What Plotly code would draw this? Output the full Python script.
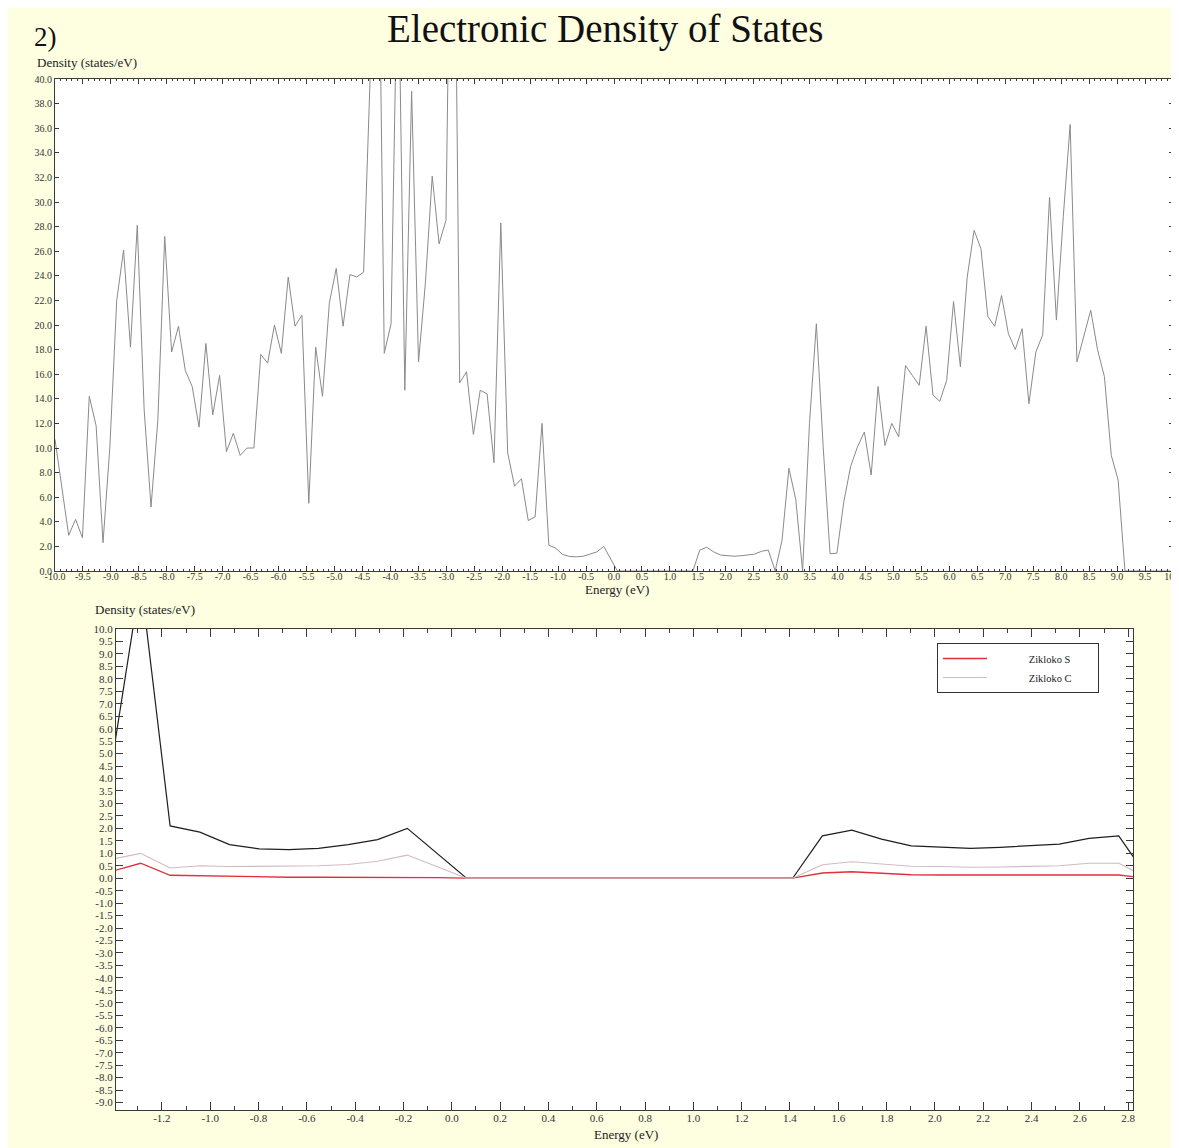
import plotly.graph_objects as go

# ---------------- data ----------------
# Upper panel: total electronic DOS over the full energy window (eV, states/eV)
energy_full = [
    -10.000, -9.877, -9.755, -9.632, -9.509, -9.387, -9.264, -9.141, -9.018, -8.896,
    -8.773, -8.650, -8.528, -8.405, -8.282, -8.160, -8.037, -7.914, -7.791, -7.669,
    -7.546, -7.423, -7.301, -7.178, -7.055, -6.933, -6.810, -6.687, -6.564, -6.442,
    -6.319, -6.196, -6.074, -5.951, -5.828, -5.706, -5.583, -5.460, -5.337, -5.215,
    -5.092, -4.969, -4.847, -4.724, -4.601, -4.479, -4.356, -4.233, -4.110, -3.988,
    -3.865, -3.742, -3.620, -3.497, -3.374, -3.252, -3.129, -3.006, -2.883, -2.761,
    -2.638, -2.515, -2.393, -2.270, -2.147, -2.025, -1.902, -1.779, -1.656, -1.534,
    -1.411, -1.288, -1.166, -1.043, -0.920, -0.798, -0.675, -0.552, -0.429, -0.307,
    -0.184, -0.061, 0.061, 1.411, 1.534, 1.656, 1.779, 1.902, 2.025, 2.147,
    2.270, 2.393, 2.515, 2.638, 2.761, 2.883, 3.006, 3.129, 3.252, 3.374,
    3.497, 3.620, 3.742, 3.865, 3.988, 4.110, 4.233, 4.356, 4.479, 4.601,
    4.724, 4.847, 4.969, 5.092, 5.215, 5.337, 5.460, 5.583, 5.706, 5.828,
    5.951, 6.074, 6.196, 6.319, 6.442, 6.564, 6.687, 6.810, 6.933, 7.055,
    7.178, 7.301, 7.423, 7.546, 7.669, 7.791, 7.914, 8.037, 8.160, 8.282,
    8.405, 8.528, 8.650, 8.773, 8.896, 9.018, 9.141, 10.000,
]
dos_full = [
    10.7, 6.6, 2.9, 4.2, 2.7, 14.2, 11.8, 2.3, 10.1, 22.0,
    26.1, 18.2, 28.1, 13.1, 5.2, 12.3, 27.2, 17.8, 19.9, 16.3,
    15.0, 11.7, 18.5, 12.7, 15.9, 9.7, 11.2, 9.4, 10.0, 10.0,
    17.6, 16.9, 20.0, 17.7, 23.9, 19.9, 20.8, 5.5, 18.2, 14.2,
    21.8, 24.6, 19.9, 24.1, 23.9, 24.3, 41.0, 62.0, 17.7, 20.1,
    52.0, 14.7, 39.0, 17.0, 23.4, 32.1, 26.6, 28.5, 70.0, 15.3,
    16.2, 11.1, 14.7, 14.4, 8.8, 28.3, 9.6, 6.9, 7.5, 4.1,
    4.4, 12.0, 2.1, 1.85, 1.35, 1.18, 1.15, 1.2, 1.35, 1.55,
    2.0, 1.0, 0.0, 0.0, 1.7, 1.93, 1.57, 1.3, 1.24, 1.2,
    1.24, 1.31, 1.37, 1.6, 1.7, 0.0, 2.5, 8.35, 5.8, 0.0,
    12.0, 20.1, 10.1, 1.4, 1.45, 5.6, 8.5, 10.1, 11.3, 7.8,
    15.0, 10.2, 12.0, 10.9, 16.7, 15.9, 15.1, 19.9, 14.3, 13.8,
    15.5, 21.9, 16.6, 23.9, 27.7, 26.2, 20.7, 19.9, 22.4, 19.3,
    18.0, 19.7, 13.6, 17.8, 19.2, 30.4, 20.4, 28.8, 36.3, 17.0,
    19.0, 21.2, 18.0, 15.8, 9.4, 7.4, 0.0, 0.0,
]

# Lower panel: zoom on the gap region
energy_zoom = [
    -1.411, -1.288, -1.166, -1.043, -0.920, -0.798, -0.675, -0.552, -0.429, -0.307,
    -0.184, -0.061, 0.061, 1.411, 1.534, 1.656, 1.779, 1.902, 2.025, 2.147,
    2.270, 2.393, 2.515, 2.638, 2.761, 2.883,
]
dos_total_zoom = [
    4.4, 12.0, 2.1, 1.85, 1.35, 1.18, 1.15, 1.2, 1.35, 1.55,
    2.0, 1.0, 0.0, 0.0, 1.7, 1.93, 1.57, 1.3, 1.24, 1.2,
    1.24, 1.31, 1.37, 1.6, 1.7, 0.0,
]
dos_S = [
    0.27, 0.6, 0.12, 0.1, 0.06, 0.04, 0.04, 0.04, 0.04, 0.04,
    0.04, 0.02, 0.0, 0.0, 0.21, 0.26, 0.2, 0.14, 0.13, 0.13,
    0.13, 0.13, 0.13, 0.13, 0.13, 0.0,
]
dos_C = [
    0.75, 1.0, 0.41, 0.5, 0.47, 0.47, 0.47, 0.5, 0.55, 0.68,
    0.93, 0.45, 0.0, 0.0, 0.54, 0.66, 0.56, 0.48, 0.47, 0.44,
    0.45, 0.47, 0.5, 0.6, 0.6, 0.0,
]
series_names = ["Zikloko S", "Zikloko C"]

# tick values (labels are formatted from them with a plain hyphen minus)
x_ticks_full = [-10.0 + 0.5 * i for i in range(41)]
y_ticks_full = [2.0 * i for i in range(21)]
x_ticks_zoom = [-1.2, -1.0, -0.8, -0.6, -0.4, -0.2, 0.0, 0.2, 0.4, 0.6, 0.8, 1.0, 1.2,
                1.4, 1.6, 1.8, 2.0, 2.2, 2.4, 2.6, 2.8]
y_ticks_zoom = [10.0 - 0.5 * i for i in range(39)]


def labels(vals):
    out = []
    for v in vals:
        s = f"{v:.1f}"
        if s == "-0.0":
            s = "0.0"
        out.append(s)
    return out


# ---------------- figure ----------------
W, H = 1179, 1148
OFF = 8  # page body margin in front of the figure
BG = "#FEFEE1"
SERIF = "Liberation Serif"
AX = "#3a3a3a"


def px_x(p):
    return (p - OFF) / W


def px_y(p):
    return 1 - (p - OFF) / H


fig = go.Figure()

fig.add_trace(go.Scatter(
    x=energy_full, y=dos_full, mode="lines",
    line=dict(color="#8a8a8a", width=1), showlegend=False,
    xaxis="x", yaxis="y",
))

fig.add_trace(go.Scatter(
    x=energy_zoom, y=dos_total_zoom, mode="lines", name="total",
    line=dict(color="#1e1e1e", width=1.2), showlegend=False,
    xaxis="x2", yaxis="y2",
))
pad_l = "\u00a0" * 14
pad_r = "\u00a0" * 8
fig.add_trace(go.Scatter(
    x=energy_zoom, y=dos_S, mode="lines", name=pad_l + series_names[0] + pad_r,
    line=dict(color="#e0303c", width=1.3),
    xaxis="x2", yaxis="y2", showlegend=True,
))
fig.add_trace(go.Scatter(
    x=energy_zoom, y=dos_C, mode="lines", name=pad_l + series_names[1] + pad_r,
    line=dict(color="#d3b9c2", width=1.2),
    xaxis="x2", yaxis="y2", showlegend=True,
))

tickfont_top = dict(family=SERIF, size=10, color="#333")
tickfont_low = dict(family=SERIF, size=11, color="#333")

common = dict(showline=True, linecolor=AX, linewidth=1.2, mirror="allticks",
              ticks="inside", tickcolor=AX, showgrid=False, zeroline=False,
              automargin=False)

fig.update_layout(
    width=W, height=H,
    margin=dict(l=0, r=0, t=0, b=0, pad=0),
    paper_bgcolor=BG, plot_bgcolor="white",
    xaxis=dict(domain=[px_x(55), px_x(1173)], range=[-10, 10], anchor="y",
               tickvals=x_ticks_full, ticktext=labels(x_ticks_full),
               ticklen=5, tickfont=tickfont_top, ticklabelstandoff=-4,
               minor=dict(dtick=0.1, ticks="inside", ticklen=2, tickcolor=AX),
               **common),
    yaxis=dict(domain=[px_y(571), px_y(79)], range=[0, 40], anchor="x",
               tickvals=y_ticks_full, ticktext=labels(y_ticks_full),
               ticklen=4, tickfont=tickfont_top, **common),
    xaxis2=dict(domain=[px_x(116), px_x(1133)], range=[-1.39, 2.82], anchor="y2",
                tickvals=x_ticks_zoom, ticktext=labels(x_ticks_zoom),
                ticklen=8, tickfont=tickfont_low, ticklabelstandoff=-2,
                minor=dict(dtick=0.1, tick0=0, ticks="inside", ticklen=4, tickcolor=AX),
                **common),
    yaxis2=dict(domain=[px_y(1110), px_y(629)], range=[-9.3, 10.0], anchor="x2",
                tickvals=y_ticks_zoom, ticktext=labels(y_ticks_zoom),
                ticklen=7, tickfont=tickfont_low, **common),
    legend=dict(x=px_x(937), y=px_y(643), xanchor="left", yanchor="top",
                bgcolor="white", bordercolor="#333", borderwidth=1,
                font=dict(family=SERIF, size=10.5, color="#222"),
                tracegroupgap=0, itemwidth=44, traceorder="normal"),
    showlegend=True,
)

annos = [
    dict(text="Electronic Density of States", x=px_x(605), y=px_y(29),
         font=dict(family=SERIF, size=39, color="#111")),
    dict(text="2)", x=px_x(46), y=px_y(37),
         font=dict(family=SERIF, size=27, color="#111")),
    dict(text="Density (states/eV)", x=px_x(87), y=px_y(63),
         font=dict(family=SERIF, size=13, color="#222")),
    dict(text="Energy (eV)", x=px_x(617), y=px_y(589),
         font=dict(family=SERIF, size=13, color="#222")),
    dict(text="Density (states/eV)", x=px_x(145), y=px_y(609),
         font=dict(family=SERIF, size=13, color="#222")),
    dict(text="Energy (eV)", x=px_x(626), y=px_y(1134),
         font=dict(family=SERIF, size=13, color="#222")),
]
for a in annos:
    fig.add_annotation(xref="paper", yref="paper", showarrow=False,
                       xanchor="center", yanchor="middle", **a)

fig.write_html("out.html")
